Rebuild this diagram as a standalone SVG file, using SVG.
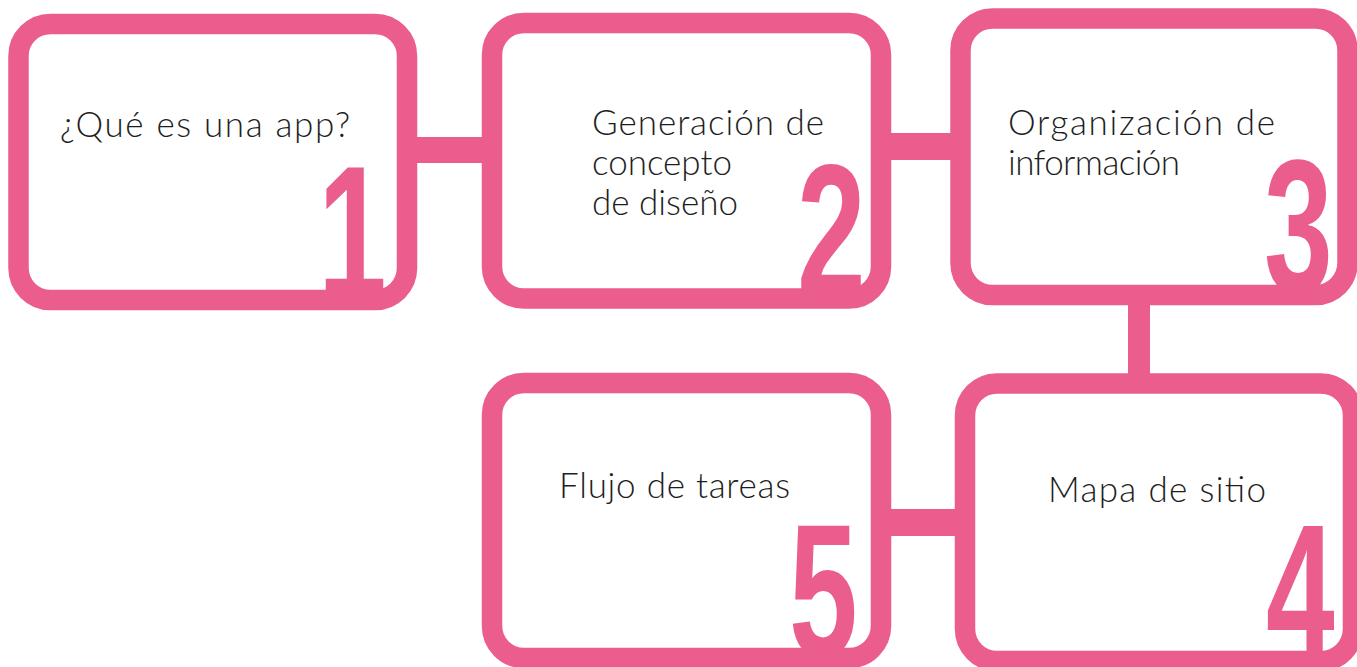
<svg xmlns="http://www.w3.org/2000/svg" width="1357" height="667" viewBox="0 0 1357 667">
<style>
.box{fill:#ffffff;stroke:#EB5D8C;stroke-width:20.5}
.conn{fill:#EB5D8C}
.lbl{font-family:Lato,"Noto Sans",sans-serif;font-weight:300;font-size:35px;fill:#1e1e1e}
.num{font-family:"Liberation Sans",Arial,sans-serif;font-weight:bold;font-size:190px;fill:#EB5D8C}
</style>
<rect width="1357" height="667" fill="#ffffff"/>
<g id="connectors">
<rect class="conn" x="405" y="137" width="90" height="26"/>
<rect class="conn" x="879" y="133" width="84" height="27"/>
<rect class="conn" x="1128" y="293" width="22" height="93"/>
<rect class="conn" x="879" y="509" width="88" height="27"/>
</g>
<g id="node1">
<rect class="box" x="18.5" y="24" width="388.5" height="276" rx="32"/>
<text class="lbl" x="60" y="137" textLength="290" lengthAdjust="spacing">¿Qué es una app?</text>
<text class="num" transform="translate(318,298) scale(0.65,1)">1</text>
</g>
<g id="node2">
<rect class="box" x="492" y="23" width="389" height="275.5" rx="32"/>
<text class="lbl" x="592" y="135" textLength="232" lengthAdjust="spacing">Generación de</text>
<text class="lbl" x="592" y="175">concepto</text>
<text class="lbl" x="592" y="215">de diseño</text>
<text class="num" transform="translate(797,296) scale(0.65,1)">2</text>
</g>
<g id="node3">
<rect class="box" x="960.5" y="18.5" width="387" height="276.5" rx="32"/>
<text class="lbl" x="1008" y="135" textLength="267" lengthAdjust="spacing">Organización de</text>
<text class="lbl" x="1008" y="175" textLength="172" lengthAdjust="spacing">información</text>
<text class="num" transform="translate(1264,292) scale(0.65,1)">3</text>
</g>
<g id="node4">
<rect class="box" x="965" y="383.5" width="388" height="277.5" rx="32"/>
<text class="lbl" x="1048" y="502" textLength="218" lengthAdjust="spacing">Mapa de sitio</text>
<text class="num" transform="translate(1266,657) scale(0.65,1)">4</text>
</g>
<g id="node5">
<rect class="box" x="492" y="383" width="389" height="275" rx="32"/>
<text class="lbl" x="559" y="498" textLength="231" lengthAdjust="spacing">Flujo de tareas</text>
<text class="num" transform="translate(789,656) scale(0.65,1)">5</text>
</g>
</svg>
